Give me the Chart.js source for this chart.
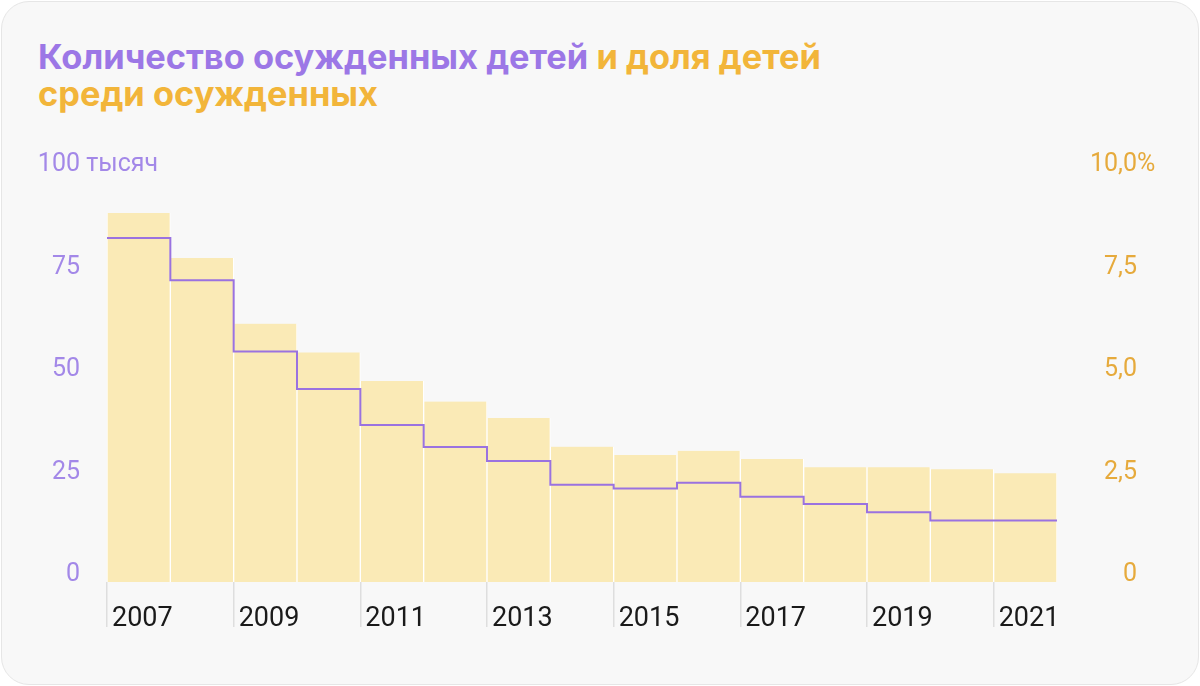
<!DOCTYPE html>
<html lang="ru">
<head>
<meta charset="utf-8">
<script src="https://cdn.jsdelivr.net/npm/chart.js@4.4.1/dist/chart.umd.min.js"></script>
<style>
    html, body { margin: 0; padding: 0; background: #ffffff; }
    #carte {
        position: relative;
        width: 1196px; height: 682px;
        margin: 1px;
        background: #f8f8f8;
        border: 1px solid #e6e6e6;
        border-radius: 28px;
        overflow: hidden;
    }
    #titre {
        position: absolute; left: 36px; top: 36px; margin: 0;
        font-family: Inter, sans-serif; font-weight: 700;
        font-size: 34.4px; line-height: 37px; letter-spacing: 0;
    }
    #titre .violet { color: #9c77e6; }
    #titre .jaune { color: #f2b53a; }
    #graph { position: absolute; left: -2px; top: -2px; }
</style>
</head>
<body>
<div id="carte">
    <h1 id="titre"><span class="violet">Количество осужденных детей</span> <span class="jaune">и доля детей<br>среди осужденных</span></h1>
    <canvas id="graph" width="1200" height="686"></canvas>
</div>
<script>
// Données
const annees = [2007, 2008, 2009, 2010, 2011, 2012, 2013, 2014, 2015, 2016, 2017, 2018, 2019, 2020, 2021];
// Nombre d'enfants condamnés, en milliers (axe gauche)
const nombreEnfants = [83.9, 73.6, 56.2, 47.1, 38.3, 32.9, 29.5, 23.7, 22.8, 24.2, 20.8, 19.0, 17.0, 15.0, 15.0];
// Part des enfants parmi les condamnés, en % (axe droit)
const partEnfants = [9.0, 7.9, 6.3, 5.6, 4.9, 4.4, 4.0, 3.3, 3.1, 3.2, 3.0, 2.8, 2.8, 2.75, 2.65];

const ticksGauche = [0, 25, 50, 75, 100];
const libellesGauche = ['0', '25', '50', '75', '100'];
const ticksDroite = [0, 2.5, 5, 7.5, 10];
const libellesDroite = ['0', '2,5', '5,0', '7,5', '10,0'];
const ticksAnnees = [0, 2, 4, 6, 8, 10, 12, 14];

const policeAxe = { family: 'Roboto, sans-serif', size: 25 };
const decalage = -7; // décalage vertical des libellés des axes Y

// Barres centrées sur chaque année, ligne en escalier sur les bords
const pointsBarres = partEnfants.map((v, i) => ({ x: i + 0.5, y: v }));
const pointsLigne = nombreEnfants.map((v, i) => ({ x: i, y: v }));
pointsLigne.push({ x: nombreEnfants.length, y: nombreEnfants[nombreEnfants.length - 1] });

// Ajoute "тысяч" et "%" après les libellés du haut
const suffixes = {
    id: 'suffixes',
    afterDraw(chart) {
        const ctx = chart.ctx;
        const yG = chart.scales.y, yD = chart.scales.y1;
        ctx.save();
        ctx.font = policeAxe.size + 'px ' + policeAxe.family;
        ctx.textBaseline = 'middle';
        ctx.textAlign = 'left';
        ctx.fillStyle = '#a388e8';
        ctx.fillText(' тысяч', yG.right - 27, yG.getPixelForValue(100) + decalage);
        ctx.fillStyle = '#e6aa3c';
        ctx.fillText('%', yD.right, yD.getPixelForValue(10) + decalage);
        ctx.restore();
    }
};

new Chart(document.getElementById('graph').getContext('2d'), {
    type: 'bar',
    data: {
        datasets: [
            {
                type: 'line',
                data: pointsLigne,
                yAxisID: 'y',
                borderColor: '#9a72e0',
                borderWidth: 2,
                pointRadius: 0,
                stepped: 'before',
                fill: false,
                clip: false,
                order: 1
            },
            {
                type: 'bar',
                data: pointsBarres,
                yAxisID: 'y1',
                backgroundColor: '#faeab6',
                borderColor: '#ffffff',
                borderWidth: { left: 1, right: 1, top: 0, bottom: 0 },
                borderSkipped: false,
                barPercentage: 1,
                categoryPercentage: 1,
                order: 2
            }
        ]
    },
    options: {
        responsive: false,
        animation: false,
        layout: { padding: { top: 172, left: 0, right: 63, bottom: 44 } },
        plugins: { legend: { display: false }, tooltip: { enabled: false } },
        scales: {
            x: {
                type: 'linear',
                min: 0, max: 15,
                offset: false,
                afterBuildTicks: s => { s.ticks = ticksAnnees.map(v => ({ value: v })); },
                afterFit: s => { s.height = 60; },
                border: { display: false },
                grid: { offset: false, drawOnChartArea: false, drawTicks: true, tickLength: 45, color: '#dedede', lineWidth: 1.5 },
                ticks: {
                    align: 'start',
                    labelOffset: 5,
                    padding: -24,
                    maxRotation: 0,
                    color: '#1a1a1a',
                    font: { family: 'Roboto, sans-serif', size: 27 },
                    callback: v => String(annees[v])
                }
            },
            y: {
                position: 'left',
                min: 0, max: 100,
                afterBuildTicks: s => { s.ticks = ticksGauche.map(v => ({ value: v })); },
                afterFit: s => { s.width = 107; },
                border: { display: false },
                grid: { display: false, drawTicks: false },
                ticks: {
                    padding: 27,
                    labelOffset: decalage,
                    color: '#a388e8',
                    font: policeAxe,
                    callback: (v, i) => libellesGauche[i]
                }
            },
            y1: {
                position: 'right',
                min: 0, max: 10,
                afterBuildTicks: s => { s.ticks = ticksDroite.map(v => ({ value: v })); },
                afterFit: s => { s.width = 80; },
                border: { display: false },
                grid: { display: false, drawTicks: false },
                ticks: {
                    crossAlign: 'far',
                    labelOffset: decalage,
                    color: '#e6aa3c',
                    font: policeAxe,
                    callback: (v, i) => libellesDroite[i]
                }
            }
        }
    },
    plugins: [suffixes]
});
</script>
</body>
</html>
